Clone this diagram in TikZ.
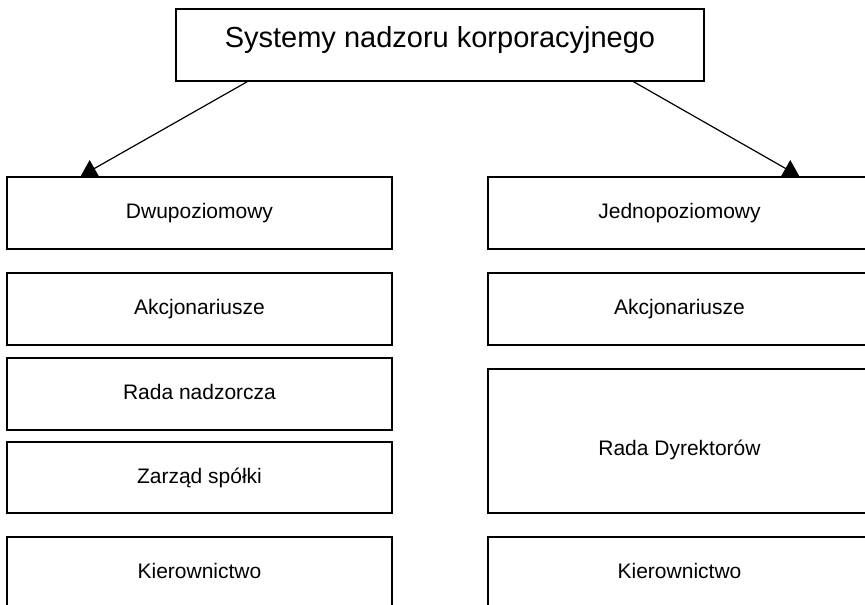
\documentclass[tikz,border=0pt]{standalone}
\usepackage{fontspec}
\setmainfont{Liberation Sans}
\usetikzlibrary{arrows.meta,calc}
\begin{document}
\begin{tikzpicture}[x=1pt,y=-1pt,
  box/.style={draw, line width=1.3pt, fill=white, rectangle, inner sep=0pt,
    font=\fontsize{21}{25}\selectfont, text height=15pt, text depth=4pt},
  topbox/.style={box, font=\fontsize{29}{34}\selectfont, text height=21pt, text depth=17pt},
  conn/.style={line width=1.2pt, -{Triangle[length=16pt,width=19pt]}}]
\useasboundingbox (0,0) rectangle (865,605);
\clip (0,0) rectangle (865,605);

\node[topbox, minimum width=528pt, minimum height=72pt] (top) at (440,45) {Systemy nadzoru korporacyjnego};

% left column
\node[box, minimum width=385pt, minimum height=72pt] (dwu) at (199.5,213) {Dwupoziomowy};
\node[box, minimum width=385pt, minimum height=72pt] (akL) at (199.5,309) {Akcjonariusze};
\node[box, minimum width=385pt, minimum height=72pt] (rada) at (199.5,394) {Rada nadzorcza};
\node[box, minimum width=385pt, minimum height=71pt] (zarz) at (199.5,477.5) {Zarząd spółki};
\node[box, minimum width=385pt, minimum height=72pt] (kierL) at (199.5,573) {Kierownictwo};

% right column
\node[box, minimum width=383pt, minimum height=72pt] (jedn) at (679.5,213) {Jednopoziomowy};
\node[box, minimum width=383pt, minimum height=72pt] (akR) at (679.5,309) {Akcjonariusze};
\node[box, minimum width=383pt, minimum height=144pt, text height=32pt] (rd) at (679.5,441) {Rada Dyrektorów};
\node[box, minimum width=383pt, minimum height=72pt] (kierR) at (679.5,573) {Kierownictwo};

% connectors
\draw[conn] ($(top.south west)!0.136!(top.south east)$) -- ($(dwu.north west)!0.192!(dwu.north east)$);
\draw[conn] ($(top.south west)!0.8655!(top.south east)$) -- ($(jedn.north west)!0.812!(jedn.north east)$);
\end{tikzpicture}
\end{document}
